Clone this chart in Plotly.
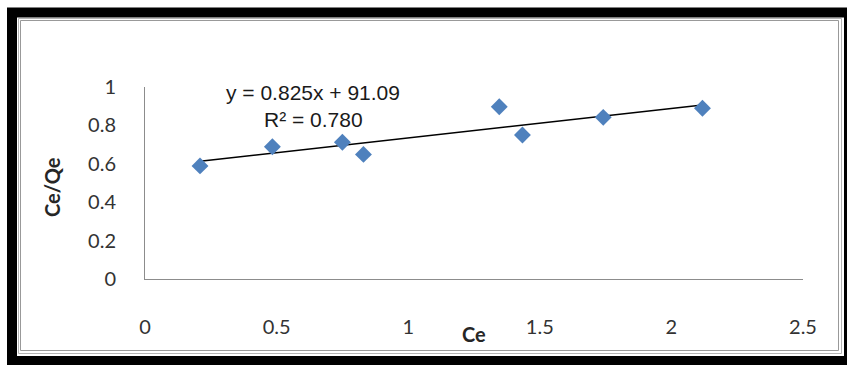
import numpy as np
import plotly.graph_objects as go

# Measured data
ce = [0.209, 0.484, 0.750, 0.830, 1.346, 1.434, 1.741, 2.118]
ce_qe = [0.589, 0.689, 0.712, 0.649, 0.897, 0.750, 0.842, 0.889]

x_tickvals = [0, 0.5, 1, 1.5, 2, 2.5]
x_ticktext = ["0", "0.5", "1", "1.5", "2", "2.5"]
y_tickvals = [0, 0.2, 0.4, 0.6, 0.8, 1]
y_ticktext = ["0", "0.2", "0.4", "0.6", "0.8", "1"]

eq_line1 = "y = 0.825x + 91.09"
eq_line2 = "R² = 0.780"

# Linear trendline across the data span
slope, intercept = np.polyfit(ce, ce_qe, 1)
trend_x = [min(ce), max(ce)]
trend_y = [slope * v + intercept for v in trend_x]

W, H = 847, 365
L, R, T, B = 145, 44, 87, 86
pw, ph = W - L - R, H - T - B


def px(xpix):
    return (xpix - L) / pw


def py(ypix):
    return (H - B - ypix) / ph


fig = go.Figure()
fig.add_trace(go.Scatter(
    x=trend_x, y=trend_y, mode="lines",
    line=dict(color="black", width=1.6), hoverinfo="skip", showlegend=False,
))
fig.add_trace(go.Scatter(
    x=ce, y=ce_qe, mode="markers",
    marker=dict(symbol="diamond", size=13, color="#4F81BD"),
    showlegend=False,
))

tick_font = dict(family="Lato, Carlito, sans-serif", size=20, color="#333333")

fig.update_xaxes(
    range=[0, 2.5], tickvals=x_tickvals, ticktext=x_ticktext,
    showgrid=False, zeroline=False, showline=True, linecolor="#8c8c8c", linewidth=1,
    ticks="outside", ticklen=30, tickcolor="rgba(0,0,0,0)", tickfont=tick_font,
)
fig.update_yaxes(
    range=[0, 1], tickvals=y_tickvals, ticktext=y_ticktext,
    showgrid=False, zeroline=False, showline=True, linecolor="#8c8c8c", linewidth=1,
    ticks="outside", ticklen=24, tickcolor="rgba(0,0,0,0)", tickfont=tick_font,
)

title_font = dict(family="Lato, Carlito, sans-serif", size=20, color="#262626")
eq_font = dict(family="Liberation Sans, Arial, sans-serif", size=21, color="#1a1a1a")

annotations = [
    dict(text="<b>Ce</b>", x=0.5, y=py(334), xref="paper", yref="paper",
         showarrow=False, font=title_font, xanchor="center", yanchor="middle"),
    dict(text="<b>Ce/Qe</b>", x=px(52), y=py(187), xref="paper", yref="paper",
         showarrow=False, font=title_font, textangle=-90,
         xanchor="center", yanchor="middle"),
    dict(text=eq_line1, x=px(313), y=py(92), xref="paper", yref="paper",
         showarrow=False, font=eq_font, xanchor="center", yanchor="middle"),
    dict(text=eq_line2, x=px(313), y=py(119), xref="paper", yref="paper",
         showarrow=False, font=eq_font, xanchor="center", yanchor="middle"),
]

# Outer black frame and thin grey inner borders
shapes = [
    dict(type="rect", xref="paper", yref="paper",
         x0=px(12), x1=px(849), y0=py(12.5), y1=py(361),
         line=dict(color="black", width=10), fillcolor="rgba(0,0,0,0)", layer="above"),
    dict(type="rect", xref="paper", yref="paper",
         x0=px(18.5), x1=px(841.5), y0=py(18.5), y1=py(353.5),
         line=dict(color="#b4b4b4", width=1), fillcolor="rgba(0,0,0,0)"),
    dict(type="rect", xref="paper", yref="paper",
         x0=px(20.5), x1=px(838.5), y0=py(20.5), y1=py(350.5),
         line=dict(color="#999999", width=1), fillcolor="rgba(0,0,0,0)"),
]

fig.update_layout(
    width=W, height=H,
    margin=dict(l=L, r=R, t=T, b=B),
    paper_bgcolor="white", plot_bgcolor="white",
    annotations=annotations, shapes=shapes,
    showlegend=False,
)

fig.write_html("out.html")
